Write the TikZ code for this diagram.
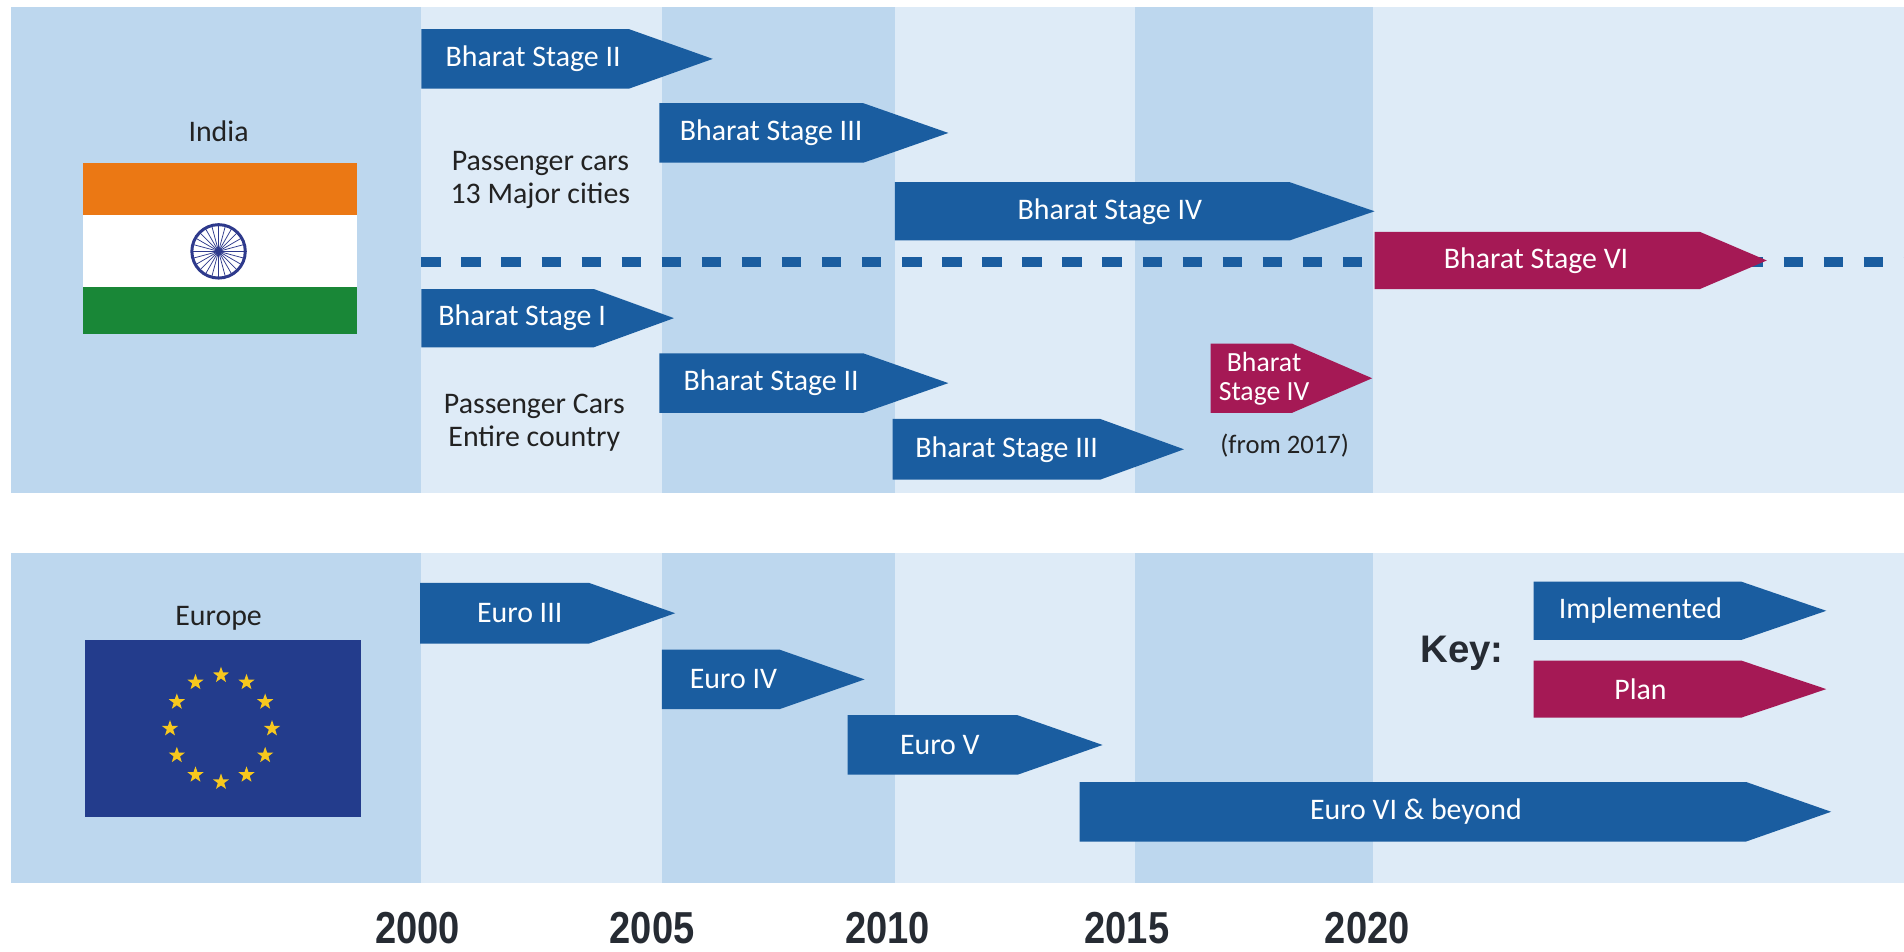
\documentclass[tikz,border=0pt]{standalone}
\usepackage{graphicx}
\usepackage{fontspec}
\setmainfont{Carlito}
\newfontfamily\yearfont{Liberation Sans}
\usetikzlibrary{shapes.geometric}
\definecolor{bandDark}{HTML}{BDD7EE}
\definecolor{bandLight}{HTML}{DEEBF7}
\definecolor{implBlue}{HTML}{1A5DA0}
\definecolor{planMag}{HTML}{A51955}
\definecolor{txtDark}{HTML}{222222}
\definecolor{yearDark}{HTML}{262B33}
\definecolor{flagOrange}{HTML}{EB7814}
\definecolor{flagGreen}{HTML}{198737}
\definecolor{chakraBlue}{HTML}{2E3A8C}
\definecolor{euBlue}{HTML}{233C8C}
\definecolor{starYellow}{HTML}{F7C81E}
\tikzset{
  lbl/.style={text=white, font=\fontsize{14}{16}\selectfont, inner sep=0pt, anchor=center},
  lblsmall/.style={text=white, font=\fontsize{13}{13.5}\selectfont, inner sep=0pt, align=center},
  note/.style={text=txtDark, font=\fontsize{14}{15.5}\selectfont, inner sep=0pt, align=center},
  notesmall/.style={text=txtDark, font=\fontsize{12.5}{14}\selectfont, inner sep=0pt},
  year/.style={text=yearDark, font=\yearfont\bfseries\fontsize{21}{24}\selectfont, inner sep=0pt},
  keylbl/.style={text=yearDark, font=\yearfont\bfseries\fontsize{18}{20}\selectfont, inner sep=0pt},
  eustar/.style={star, star points=5, star point ratio=2.5, fill=starYellow, draw=none, minimum size=0.28cm, inner sep=0pt},
  dashline/.style={implBlue, line width=4.5pt, dash pattern=on 0.32cm off 0.34cm}
}
% #1 name, #2 x start, #3 y top, #4 y bottom, #5 x body end, #6 x tip, #7 colour, #8 text x, #9 text
\newcommand\stagearrow[9]{%
  \fill[#7] (#2,#3) -- (#5,#3) -- (#6,{(#3+#4)/2}) -- (#5,#4) -- (#2,#4) -- cycle;
  \node[lbl] (#1) at (#8,{(#3+#4)/2}) {#9};}
\begin{document}
\begin{tikzpicture}[x=0.02cm,y=-0.02cm]
\useasboundingbox (0,0) rectangle (1568,784);
\fill[white] (0,0) rectangle (1568,784);
% bands
\fill[bandLight] (9,6) rectangle (1568,406);
\fill[bandLight] (9,455) rectangle (1568,727);
\foreach \a/\b in {9/347,545/737,935/1131}{
  \fill[bandDark] (\a,6) rectangle (\b,406);
  \fill[bandDark] (\a,455) rectangle (\b,727);
}
% India flag
\fill[flagOrange] (68,134) rectangle (294,177);
\fill[white] (68,177) rectangle (294,236);
\fill[flagGreen] (68,236) rectangle (294,275);
\foreach \a in {0,15,...,345}{\draw[chakraBlue, line width=0.35pt] (180,207) -- ++(\a:22);}
\draw[chakraBlue, line width=1.4pt] (180,207) circle [radius=22];
\fill[chakraBlue] (180,207) circle [radius=3];
\node[note] (india) at (180,108) {India};
% EU flag
\fill[euBlue] (70,527) rectangle (297,673);
\foreach \i in {0,...,11}{\node[eustar] (star\i) at ({182+42*cos(\i*30)},{600+44*sin(\i*30)}) {};}
\node[note] (europe) at (180,509) {Europe};
% dashed line
\coordinate (dashA) at (347,216);
\coordinate (dashB) at (1568,216);
\draw[dashline] (dashA) -- (dashB);
% India arrows
\stagearrow{bsIItop}{347}{24}{73}{518}{587}{implBlue}{439}{Bharat Stage II}
\stagearrow{bsIIItop}{543}{85}{134}{711}{781}{implBlue}{635}{Bharat Stage III}
\stagearrow{bsIVtop}{737}{150}{198}{1062}{1132}{implBlue}{914}{Bharat Stage IV}
\stagearrow{bsVI}{1132}{191}{238}{1400}{1455}{planMag}{1265}{Bharat Stage VI}
\stagearrow{bsI}{347}{238}{286}{489}{555}{implBlue}{430}{Bharat Stage I}
\stagearrow{bsIIlow}{543}{291}{340}{711}{781}{implBlue}{635}{Bharat Stage II}
\stagearrow{bsIIIlow}{735}{345}{395}{906}{975}{implBlue}{829}{Bharat Stage III}
\fill[planMag] (997,283) -- (1064,283) -- (1130,311.5) -- (1064,340) -- (997,340) -- cycle;
\node[lblsmall] (bsIVplan) at (1041,312) {Bharat\\Stage IV};
\node[notesmall] (from2017) at (1058,367) {(from 2017)};
\node[note] (pc13) at (445,148) {Passenger cars\\13 Major cities};
\node[note] (pcall) at (440,348) {Passenger Cars\\Entire country};
% Europe arrows
\stagearrow{euroIII}{346}{480}{530}{485}{556}{implBlue}{428}{Euro III}
\stagearrow{euroIV}{545}{535}{584}{642}{712}{implBlue}{604}{Euro IV}
\stagearrow{euroV}{698}{589}{638}{838}{908}{implBlue}{774}{Euro V}
\stagearrow{euroVI}{889}{644}{693}{1438}{1508}{implBlue}{1166}{Euro VI \& beyond}
% key
\node[keylbl] (key) at (1204,538) {Key:};
\stagearrow{keyImpl}{1263}{479}{527}{1434}{1504}{implBlue}{1351}{Implemented}
\stagearrow{keyPlan}{1263}{544}{591}{1434}{1504}{planMag}{1351}{Plan}
% years
\node[year] (y2000) at (344,764) {\scalebox{0.85}[1]{2000}};
\node[year] (y2005) at (537,764) {\scalebox{0.85}[1]{2005}};
\node[year] (y2010) at (731,764) {\scalebox{0.85}[1]{2010}};
\node[year] (y2015) at (928,764) {\scalebox{0.85}[1]{2015}};
\node[year] (y2020) at (1126,764) {\scalebox{0.85}[1]{2020}};
\end{tikzpicture}
\end{document}
